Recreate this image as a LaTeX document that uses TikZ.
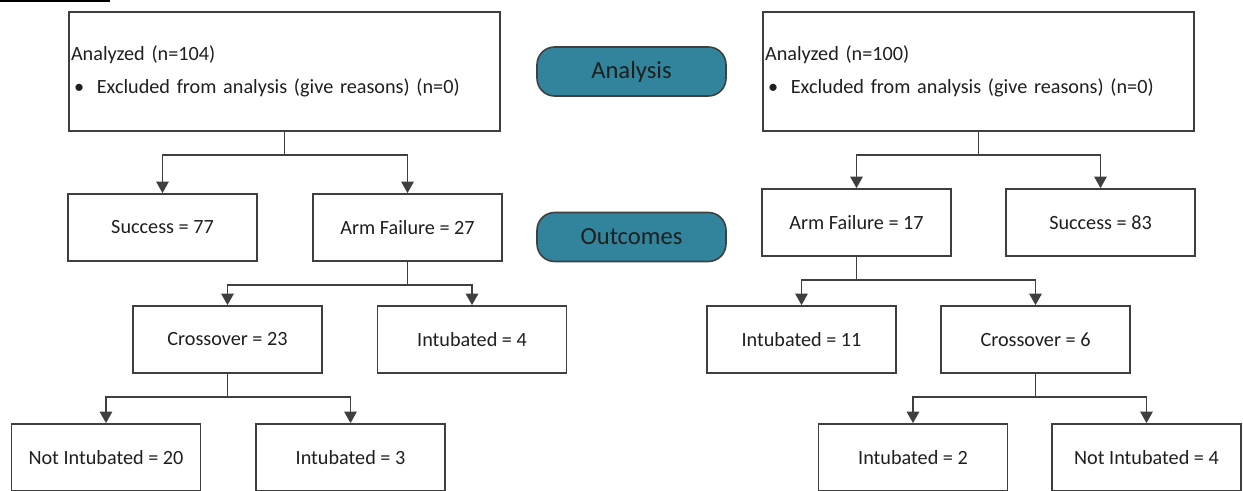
\documentclass[tikz,border=0pt]{standalone}
\usepackage{fontspec}
\setmainfont{Carlito}
\usetikzlibrary{arrows.meta}
\definecolor{pillteal}{HTML}{31849B}
\definecolor{edgegray}{HTML}{3F3F3F}
\definecolor{inkblack}{HTML}{1F1F1F}
\tikzset{
  box/.style={draw=edgegray,line width=1pt,fill=white,minimum width=3.78cm,minimum height=1.34cm,
    inner sep=0pt,font=\fontsize{11.5}{14}\selectfont,text=inkblack},
  bigbox/.style={box,minimum width=8.62cm,minimum height=2.38cm,text width=8.54cm,align=left},
  pill/.style={draw=edgegray,line width=0.9pt,fill=pillteal,rounded corners=10pt,minimum width=3.78cm,
    minimum height=0.98cm,font=\fontsize{14}{16}\selectfont,text=inkblack},
  arr/.style={draw=edgegray,line width=1pt,-{Triangle[width=7pt,length=6.5pt]}},
}
\newcommand{\excl}{\hspace*{1.7pt}\makebox[13pt][l]{\textbullet}Excluded from analysis (give reasons) (n=0)}

\begin{document}
\begin{tikzpicture}[x=0.02cm,y=-0.02cm]
\useasboundingbox (0,0) rectangle (1243,490);
\draw[line width=1.2pt] (0,1)--(110,1);
% left arm
\node[bigbox] (A1) at (284.5,71.5) {Analyzed (n=104)\\[4.5pt]\excl};
\node[box] (S77) at (162.5,227.5) {Success = 77};
\node[box] (F27) at (407.5,227.5) {Arm Failure = 27};
\node[box] (C23) at (227.5,339.5) {Crossover = 23};
\node[box] (I4) at (472,339.5) {Intubated = 4};
\node[box] (N20) at (106,457.5) {Not Intubated = 20};
\node[box] (I3) at (350.5,457.5) {Intubated = 3};
% right arm
\node[bigbox] (A2) at (978.5,71.5) {Analyzed (n=100)\\[4.5pt]\excl};
\node[box] (F17) at (856.5,222.5) {Arm Failure = 17};
\node[box] (S83) at (1100.5,222.5) {Success = 83};
\node[box] (I11) at (801.5,339.5) {Intubated = 11};
\node[box] (C6) at (1035.5,339.5) {Crossover = 6};
\node[box] (I2) at (913,457.5) {Intubated = 2};
\node[box] (N4) at (1146.5,457.5) {Not Intubated = 4};
% stage labels
\node[pill] (anl) at (631.5,71.5) {Analysis};
\node[pill] (outc) at (631.5,237) {Outcomes};
\foreach \up/\lft/\rgt in {A1/S77/F27,F27/C23/I4,C23/N20/I3,A2/F17/S83,F17/I11/C6,C6/I2/N4}{
  \draw[arr] (\up.south) -- ++(0,23) -| (\lft.north);
  \draw[arr] (\up.south) -- ++(0,23) -| (\rgt.north);
}
\end{tikzpicture}
\end{document}
